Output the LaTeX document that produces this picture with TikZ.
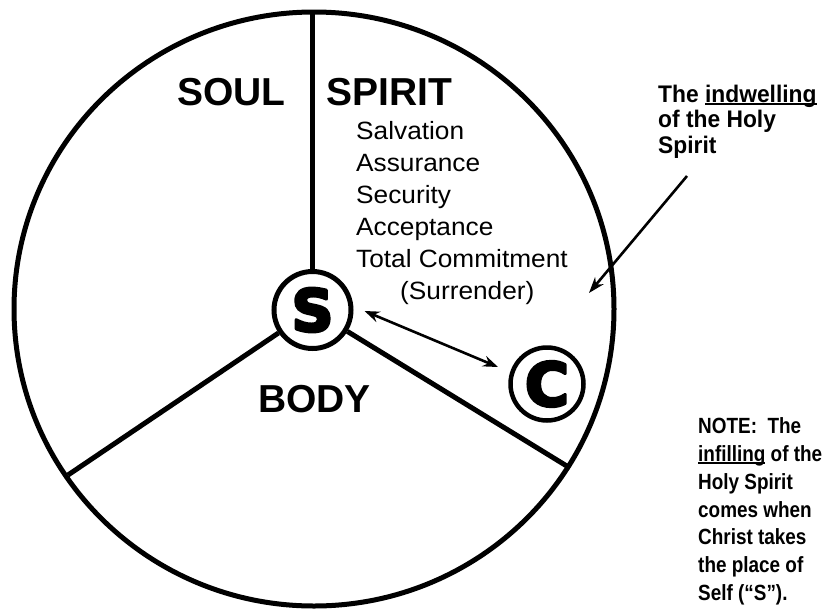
\documentclass[tikz,border=0pt]{standalone}
\usepackage{fontspec}
\setmainfont{Liberation Sans}
\newfontfamily\listfont[FakeStretch=1.05]{Liberation Sans}
\newfontfamily\notefont[FakeStretch=0.86]{Liberation Sans Bold}
\newfontfamily\topfont[FakeStretch=0.95]{Liberation Sans Bold}
\newfontfamily\heavyfont{DejaVu Sans Bold}
\usetikzlibrary{arrows.meta}
\newcommand\myul[1]{\setbox0\hbox{#1}\rlap{\rule[-2.5pt]{\wd0}{1.5pt}}\box0\relax}
\newcommand\heavyglyph[1]{\special{pdf:literal direct 2 Tr 3 w 1 j}#1\special{pdf:literal direct 0 Tr}}
\begin{document}
\begin{tikzpicture}[x=1pt,y=-1pt,
  ringline/.style={line width=5pt},
  selfnode/.style={draw, circle, line width=5pt, inner sep=0pt},
  big/.style={font=\bfseries\fontsize{39}{40}\selectfont, anchor=base west, inner sep=0pt},
  item/.style={font=\listfont\fontsize{25}{26}\selectfont, anchor=base west, inner sep=0pt},
  toptext/.style={font=\topfont\fontsize{24}{25}\selectfont, anchor=base west, inner sep=0pt},
  notetext/.style={font=\notefont\fontsize{22}{23}\selectfont, anchor=base west, inner sep=0pt},
  arr/.style={line width=2.6pt, -{Stealth[length=16pt,width=11pt,inset=5pt]}},
  darr/.style={line width=2.6pt, {Stealth[length=15pt,width=11pt,inset=5pt]}-{Stealth[length=15pt,width=11pt,inset=5pt]}}]
\fill[white] (0,0) rectangle (828,611);
\useasboundingbox (0,0) rectangle (828,611);
% outer ring
\draw[ringline] (314,309) ellipse [x radius=300, y radius=297];
% self and Christ circles
\node[selfnode, minimum size=77pt] (S) at (312.5,310) {\heavyfont\fontsize{58}{58}\selectfont\heavyglyph{S}};
\node[selfnode, minimum size=73pt, line width=4.5pt] (C) at (547,384) {\heavyfont\fontsize{60}{60}\selectfont\heavyglyph{C}};
% spokes
\coordinate (top) at (312.5,12);
\coordinate (left) at (68,475);
\coordinate (right) at (570,468);
\draw[ringline] (S) -- (top);
\draw[ringline] (S) -- (left);
\draw[ringline] (S) -- (right);
% labels
\node[big] (soul) at (177,105) {SOUL};
\node[big] (spirit) at (326,105) {SPIRIT};
\node[big] (body) at (258,412) {BODY};
% list
\foreach \t [count=\i] in {Salvation, Assurance, Security, Acceptance, Total Commitment}
  \node[item] (l\i) at (356,{139.7+32*(\i-1)}) {\t};
\node[item] (l6) at (400,299.7) {(Surrender)};
% arrows
\coordinate (a1) at (364.5,311);
\coordinate (a2) at (498,367);
\draw[darr] (a1) -- (a2);
\coordinate (b1) at (687,176);
\coordinate (b2) at (589,293);
\draw[arr] (b1) -- (b2);
% indwelling text
\node[toptext] (t1) at (658,102) {The \myul{indwelling}};
\node[toptext] (t2) at (658,127.5) {of the Holy};
\node[toptext] (t3) at (658,153) {Spirit};
% note text
\node[notetext] (n1) at (698,433.3) {NOTE:\ \ The};
\node[notetext] (n2) at (698,461.2) {\myul{infilling} of the};
\node[notetext] (n3) at (698,489.1) {Holy Spirit};
\node[notetext] (n4) at (698,517.0) {comes when};
\node[notetext] (n5) at (698,544.9) {Christ takes};
\node[notetext] (n6) at (698,572.8) {the place of};
\node[notetext] (n7) at (698,600.7) {Self (“S”).};
\end{tikzpicture}
\end{document}
